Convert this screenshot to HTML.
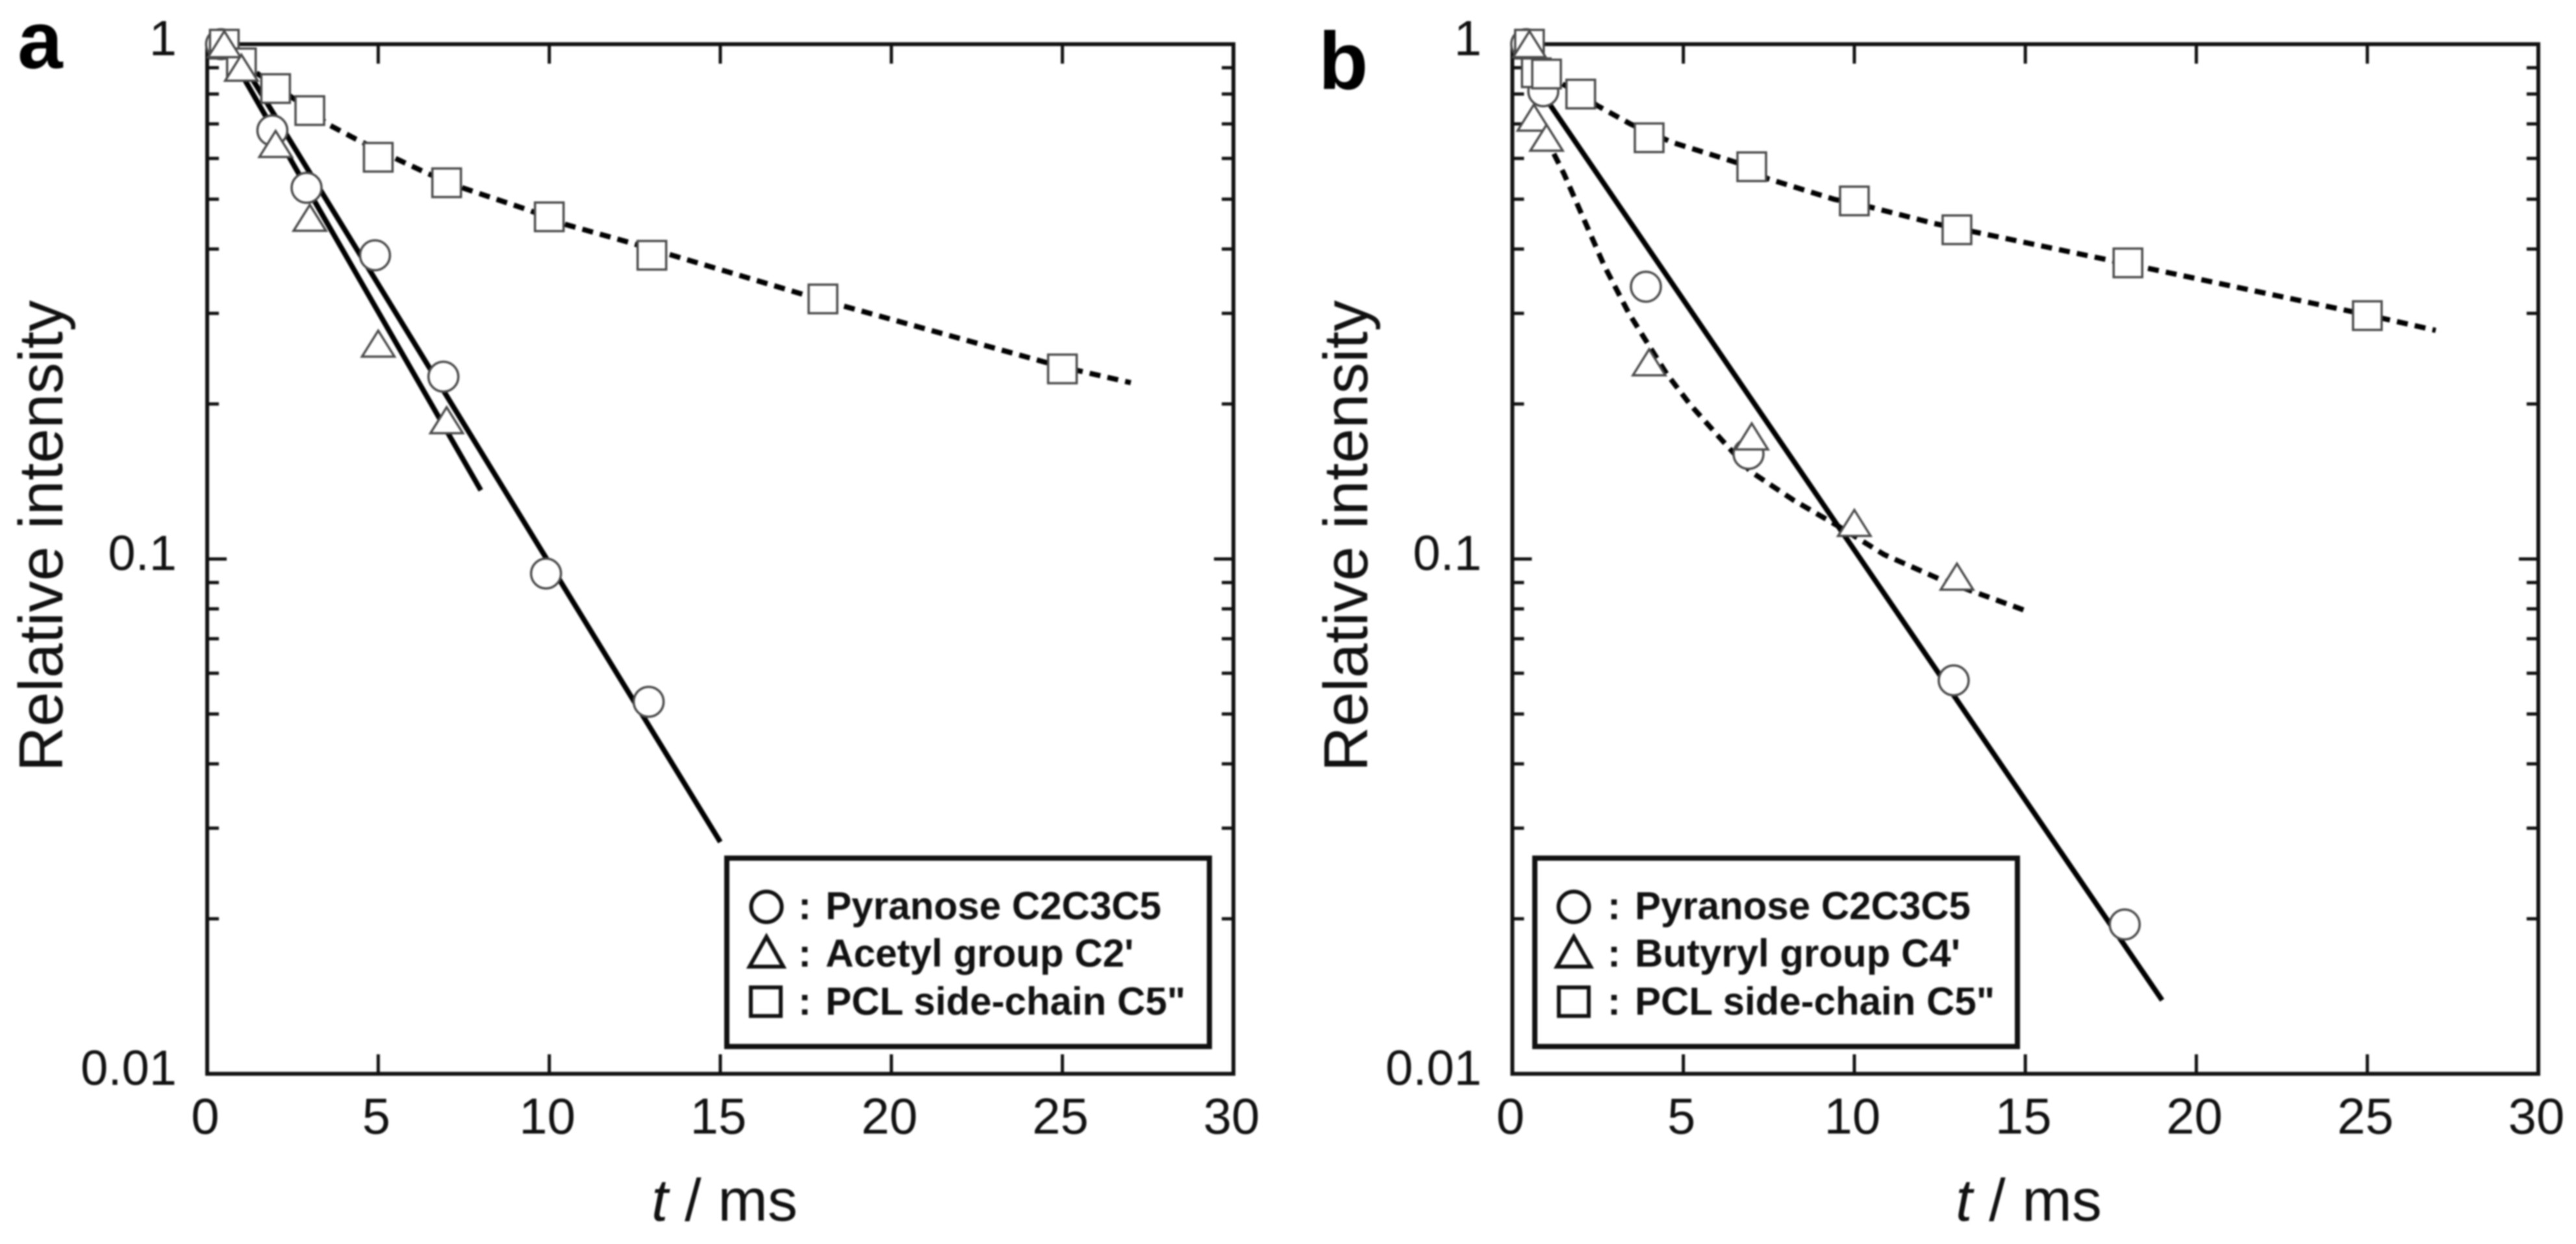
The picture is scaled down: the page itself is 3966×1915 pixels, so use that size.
<!DOCTYPE html>
<html>
<head>
<meta charset="utf-8">
<title>Relative intensity decay</title>
<style>
html,body{margin:0;padding:0;background:#fff;}
svg{display:block;filter:blur(1.3px);}
text{font-family:"Liberation Sans",sans-serif;fill:#111;}
.tick{font-size:78px;}
.ytick{font-size:76px;}
.title{font-size:96px;}
.leg{font-size:60px;font-weight:bold;}
.letter{font-size:125px;font-weight:bold;fill:#000;}
</style>
</head>
<body>
<svg id="chart" width="3966" height="1915" viewBox="0 0 3966 1915" xmlns="http://www.w3.org/2000/svg">
  <rect x="0" y="0" width="3966" height="1915" fill="#fff"/>
  <g id="panel-a"></g>
  <g id="panel-b"></g>

  <text class="letter" x="27" y="105">a</text>
  <text class="letter" x="2030" y="137">b</text>

  <text class="title" transform="translate(96,825) rotate(-90)" text-anchor="middle">Relative intensity</text>
  <text class="title" transform="translate(2105,825) rotate(-90)" text-anchor="middle">Relative intensity</text>

  <text class="title" x="1003" y="1879" style="font-size:92px"><tspan font-style="italic">t</tspan> / ms</text>
  <text class="title" x="3011" y="1879" style="font-size:92px"><tspan font-style="italic">t</tspan> / ms</text>

  <g>
    <rect x="1119" y="1321" width="743" height="290" fill="#fff" stroke="#111" stroke-width="8"/>
    <circle cx="1180" cy="1396" r="23.5" fill="none" stroke="#111" stroke-width="6"/>
    <polygon points="1180,1442 1154,1488 1206,1488" fill="none" stroke="#111" stroke-width="6"/>
    <rect x="1156" y="1520" width="46" height="44" fill="none" stroke="#111" stroke-width="6"/>
    <text class="leg" x="1229" y="1415">:</text>
    <text class="leg" x="1271" y="1415">Pyranose C2C3C5</text>
    <text class="leg" x="1229" y="1488">:</text>
    <text class="leg" x="1271" y="1488">Acetyl group C2'</text>
    <text class="leg" x="1229" y="1562">:</text>
    <text class="leg" x="1271" y="1562">PCL side-chain C5"</text>
  </g>

  <g>
    <rect x="2363" y="1321" width="743" height="290" fill="#fff" stroke="#111" stroke-width="8"/>
    <circle cx="2423" cy="1396" r="23.5" fill="none" stroke="#111" stroke-width="6"/>
    <polygon points="2423,1442 2397,1488 2449,1488" fill="none" stroke="#111" stroke-width="6"/>
    <rect x="2400" y="1520" width="46" height="44" fill="none" stroke="#111" stroke-width="6"/>
    <text class="leg" x="2475" y="1415">:</text>
    <text class="leg" x="2517" y="1415">Pyranose C2C3C5</text>
    <text class="leg" x="2475" y="1488">:</text>
    <text class="leg" x="2517" y="1488">Butyryl group C4'</text>
    <text class="leg" x="2475" y="1562">:</text>
    <text class="leg" x="2517" y="1562">PCL side-chain C5"</text>
  </g>
</svg>

<script>
// ---- shared axis values ----
const xTickValues = [0, 5, 10, 15, 20, 25, 30];
const xTickLabels = ['0', '5', '10', '15', '20', '25', '30'];
const yMajorValues = [1, 0.1, 0.01];
const yMajorLabels = ['1', '0.1', '0.01'];
const yMinorValues = [0.9, 0.8, 0.7, 0.6, 0.5, 0.4, 0.3, 0.2, 0.09, 0.08, 0.07, 0.06, 0.05, 0.04, 0.03, 0.02];

// ---- panel a data ----
const aPyranoseT = [0.5, 2, 3, 5, 7, 10, 13];
const aPyranoseV = [1.0, 0.68, 0.526, 0.389, 0.226, 0.0937, 0.0528];
const aPclT = [0.5, 1, 2, 3, 5, 7, 10, 13, 18, 25];
const aPclV = [1.0, 0.92, 0.82, 0.743, 0.603, 0.538, 0.462, 0.389, 0.32, 0.234];
const aAcetylT = [0.5, 1, 2, 3, 5, 7];
const aAcetylV = [1.0, 0.9, 0.64, 0.46, 0.262, 0.186];
const aPyranoseFitT = [0.5, 15];
const aPyranoseFitV = [1.05, 0.0282];
const aAcetylFitT = [0.5, 8];
const aAcetylFitV = [1.0, 0.136];
const aPclFitT = [1, 2, 3, 3.51, 4.35, 5.57, 6.41, 7.5, 9.44, 10.5, 12.34, 18, 25, 27];
const aPclFitV = [0.92, 0.83, 0.745, 0.7, 0.654, 0.597, 0.562, 0.525, 0.475, 0.446, 0.412, 0.318, 0.236, 0.22];

// ---- panel b data ----
const bPyranoseT = [0.5, 1, 4, 7, 13, 18];
const bPyranoseV = [1.0, 0.81, 0.338, 0.16, 0.0581, 0.0195];
const bPclT = [0.5, 0.7, 1, 2, 4, 7, 10, 13, 18, 25];
const bPclV = [1.0, 0.88, 0.875, 0.8, 0.658, 0.578, 0.496, 0.436, 0.376, 0.297];
const bButyrylEarlyT = [0.63];
const bButyrylEarlyV = [0.72];
const bButyrylT = [0.5, 1, 4, 7, 10, 13];
const bButyrylV = [1.0, 0.658, 0.241, 0.173, 0.1175, 0.0924];
const bPyranoseFitT = [1, 19];
const bPyranoseFitV = [0.78, 0.0139];
const bButyrylFitT = [1, 1.17, 1.51, 2.69, 3.41, 3.96, 4.51, 5.2, 6.03, 6.96, 8.23, 9.56, 10.87, 12.56, 15];
const bButyrylFitV = [0.66, 0.621, 0.56, 0.371, 0.3, 0.262, 0.229, 0.1995, 0.173, 0.148, 0.13, 0.1155, 0.102, 0.091, 0.0794];
const bPclFitT = [1, 2, 2.48, 3.45, 4.66, 6.95, 7.46, 9.4, 10.5, 12.3, 18, 25, 27];
const bPclFitV = [0.87, 0.8, 0.76, 0.7, 0.645, 0.578, 0.548, 0.5, 0.482, 0.449, 0.374, 0.298, 0.278];

const NS = 'http://www.w3.org/2000/svg';
const INK = '#111';
const MARK = '#4a4a4a';

function node(parent, tag, attrs) {
  const el = document.createElementNS(NS, tag);
  for (const k in attrs) el.setAttribute(k, attrs[k]);
  parent.appendChild(el);
  return el;
}

function makeScales(left, right, top, bottom) {
  return {
    x: function (t) { return left + (t / 30) * (right - left); },
    y: function (v) { return top + (-Math.log10(v)) * (bottom - top) / 2; }
  };
}

function drawAxes(g, sc, left, right, top, bottom, labelRight) {
  xTickValues.forEach(function (t, i) {
    const x = sc.x(t);
    if (t > 0 && t < 30) {
      const b = node(g, 'line', {x1: x, x2: x, y1: bottom, y2: bottom - 30, stroke: INK, 'stroke-width': 5});
      
      
      const u = node(g, 'line', {x1: x, x2: x, y1: top, y2: top + 30, stroke: INK, 'stroke-width': 5});
      
      
    }
    const lab = node(g, 'text', {x: x - 3, y: 1745, 'text-anchor': 'middle', 'class': 'tick'});
    
    
    lab.textContent = xTickLabels[i];
  });
  yMinorValues.forEach(function (v) {
    const y = sc.y(v);
    const l = node(g, 'line', {x1: left, x2: left + 18, y1: y, y2: y, stroke: INK, 'stroke-width': 5});
    
    
    const r = node(g, 'line', {x1: right, x2: right - 18, y1: y, y2: y, stroke: INK, 'stroke-width': 5});
    
    
  });
  yMajorValues.forEach(function (v, i) {
    const y = sc.y(v);
    if (v < 1 && v > 0.01) {
      const l = node(g, 'line', {x1: left, x2: left + 30, y1: y, y2: y, stroke: INK, 'stroke-width': 5});
      
      
      const r = node(g, 'line', {x1: right, x2: right - 30, y1: y, y2: y, stroke: INK, 'stroke-width': 5});
      
      
    }
    const lab = node(g, 'text', {x: labelRight, y: y + 17, 'text-anchor': 'end', 'class': 'ytick'});
    
    
    lab.textContent = yMajorLabels[i];
  });
  const frame = node(g, 'rect', {x: left, y: top, width: right - left, height: bottom - top, fill: 'none', stroke: INK, 'stroke-width': 6});
  
  
}

function drawFit(g, sc, ts, vs, dashed, name) {
  const pts = ts.map(function (t, i) { return sc.x(t).toFixed(1) + ',' + sc.y(vs[i]).toFixed(1); }).join(' ');
  const attrs = {points: pts, fill: 'none', stroke: '#000', 'stroke-width': dashed ? 8 : 8};
  if (dashed) attrs['stroke-dasharray'] = '17 11';
  const el = node(g, 'polyline', attrs);
  
  
}

function drawMarkers(g, sc, ts, vs, shape, name) {
  ts.forEach(function (t, i) {
    const x = sc.x(t), y = sc.y(vs[i]);
    let el;
    if (shape === 'circle') {
      el = node(g, 'circle', {cx: x - 5, cy: y, r: 23, fill: '#fff', stroke: MARK, 'stroke-width': 3.5});
    } else if (shape === 'square') {
      el = node(g, 'rect', {x: x - 22, y: y - 22, width: 44, height: 44, fill: '#fff', stroke: MARK, 'stroke-width': 3.5});
    } else {
      el = node(g, 'polygon', {points: (x) + ',' + (y - 20) + ' ' + (x - 25) + ',' + (y + 20) + ' ' + (x + 25) + ',' + (y + 20), fill: '#fff', stroke: MARK, 'stroke-width': 3.5});
    }
    
    
  });
}

// panel a
(function () {
  const g = document.getElementById('panel-a');
  const left = 319, right = 1899, top = 68, bottom = 1653;
  const sc = makeScales(left, right, top, bottom);
  drawAxes(g, sc, left, right, top, bottom, 272);
  drawFit(g, sc, aPyranoseFitT, aPyranoseFitV, false, 'fit-line-pyranose-a');
  drawFit(g, sc, aAcetylFitT, aAcetylFitV, false, 'fit-line-acetyl');
  drawFit(g, sc, aPclFitT, aPclFitV, true, 'fit-line-pcl-a');
  drawMarkers(g, sc, aPyranoseT, aPyranoseV, 'circle', 'point-pyranose-a');
  drawMarkers(g, sc, aPclT, aPclV, 'square', 'point-pcl-a');
  drawMarkers(g, sc, aAcetylT, aAcetylV, 'triangle', 'point-acetyl');
})();

// panel b
(function () {
  const g = document.getElementById('panel-b');
  const left = 2328.4, right = 3908, top = 68, bottom = 1653;
  const sc = makeScales(left, right, top, bottom);
  drawAxes(g, sc, left, right, top, bottom, 2281);
  drawFit(g, sc, bPyranoseFitT, bPyranoseFitV, false, 'fit-line-pyranose-b');
  drawFit(g, sc, bButyrylFitT, bButyrylFitV, true, 'fit-line-butyryl');
  drawFit(g, sc, bPclFitT, bPclFitV, true, 'fit-line-pcl-b');
  drawMarkers(g, sc, bButyrylEarlyT, bButyrylEarlyV, 'triangle', 'point-butyryl');
  drawMarkers(g, sc, bPyranoseT, bPyranoseV, 'circle', 'point-pyranose-b');
  drawMarkers(g, sc, bPclT, bPclV, 'square', 'point-pcl-b');
  drawMarkers(g, sc, bButyrylT, bButyrylV, 'triangle', 'point-butyryl');
})();
</script>
</body>
</html>
